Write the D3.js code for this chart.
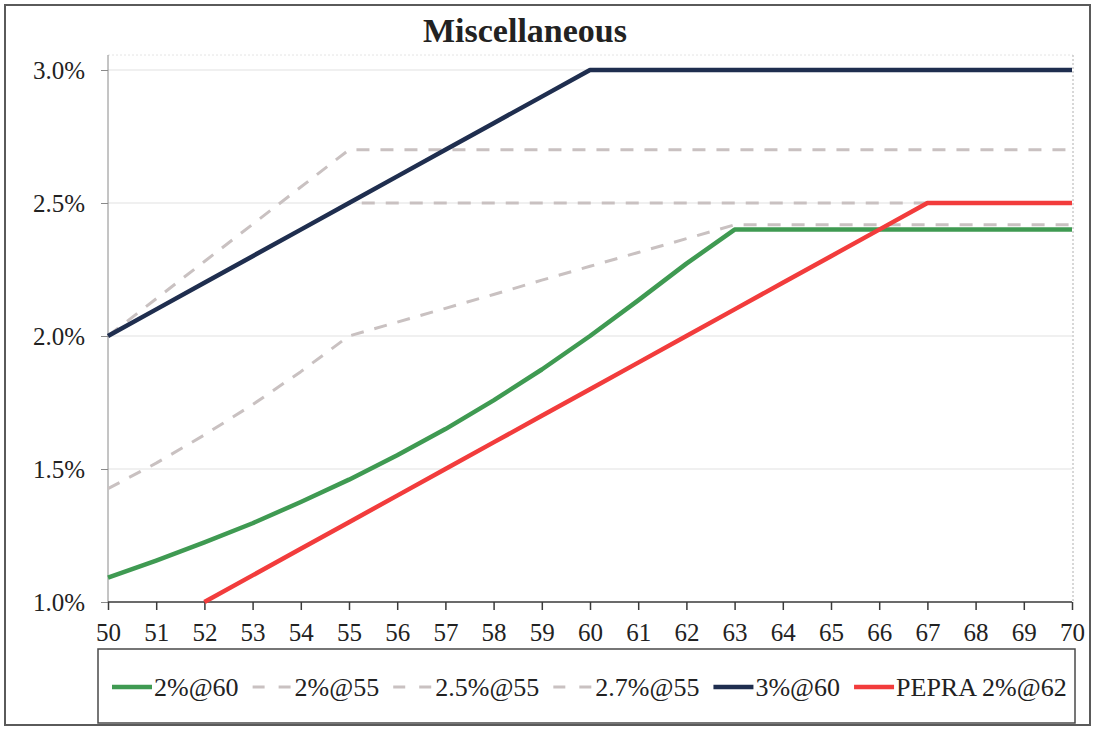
<!DOCTYPE html>
<html>
<head>
<meta charset="utf-8">
<script src="https://cdn.jsdelivr.net/npm/d3@7"></script>
<style>
body{margin:0;background:#fff;}
text{font-family:"Liberation Serif","Times New Roman",serif;}
</style>
</head>
<body>
<div id="chart"></div>
<script>
// ages on x axis
var ages = [50,51,52,53,54,55,56,57,58,59,60,61,62,63,64,65,66,67,68,69,70];
var yTicks = [1.0,1.5,2.0,2.5,3.0];
var seriesNames = ["2%@60","2%@55","2.5%@55","2.7%@55","3%@60","PEPRA 2%@62"];
// benefit factor, percent per year of service
var s2at60 = [1.092,1.156,1.224,1.296,1.376,1.460,1.552,1.650,1.758,1.874,2.000,2.134,2.272,2.400,2.400,2.400,2.400,2.400,2.400,2.400,2.400];
var s2at55 = [1.426,1.522,1.628,1.742,1.866,2.000,2.052,2.104,2.156,2.210,2.262,2.314,2.366,2.418,2.418,2.418,2.418,2.418,2.418,2.418,2.418];
var s25at55 = [2.000,2.100,2.200,2.300,2.400,2.500,2.500,2.500,2.500,2.500,2.500,2.500,2.500,2.500,2.500,2.500,2.500,2.500,2.500,2.500,2.500];
var s27at55 = [2.000,2.140,2.280,2.420,2.560,2.700,2.700,2.700,2.700,2.700,2.700,2.700,2.700,2.700,2.700,2.700,2.700,2.700,2.700,2.700,2.700];
var s3at60 = [2.000,2.100,2.200,2.300,2.400,2.500,2.600,2.700,2.800,2.900,3.000,3.000,3.000,3.000,3.000,3.000,3.000,3.000,3.000,3.000,3.000];
var pepra = [null,null,1.000,1.100,1.200,1.300,1.400,1.500,1.600,1.700,1.800,1.900,2.000,2.100,2.200,2.300,2.400,2.500,2.500,2.500,2.500];

var allSeries = [s2at60,s2at55,s25at55,s27at55,s3at60,pepra];
var colors = ["#3f9a52","#c9c1c1","#c9c1c1","#c9c1c1","#1f2e4f","#f23c3c"];
var dashed = [false,true,true,true,false,false];

var W = 1097, H = 729;
var svg = d3.select("#chart").append("svg")
	.attr("width", W)
	.attr("height", H);

// outer frame
svg.append("rect")
	.attr("x",5).attr("y",5)
	.attr("width",1085).attr("height",720)
	.attr("fill","#fff")
	.attr("stroke","#5a5a5a")
	.attr("stroke-width",2);

svg.append("text")
	.attr("x",525).attr("y",42)
	.attr("text-anchor","middle")
	.attr("font-size",34)
	.attr("font-weight","bold")
	.attr("fill","#222")
	.text("Miscellaneous");

var xscale = d3.scaleLinear().domain([50,70]).range([108,1072]);
var yscale = d3.scaleLinear().domain([1,3]).range([602,70]);

// gridlines
svg.selectAll(".grid")
	.data(yTicks.slice(1))
	.enter().append("line")
	.attr("x1",108).attr("x2",1072)
	.attr("y1",function(d){ return yscale(d); })
	.attr("y2",function(d){ return yscale(d); })
	.attr("stroke","#ebebeb")
	.attr("stroke-width",1.5);

// plot frame top/right
svg.append("line").attr("x1",108).attr("x2",1073).attr("y1",55).attr("y2",55)
	.attr("stroke","#e4e4e4").attr("stroke-dasharray","2,2");
svg.append("line").attr("x1",1073).attr("x2",1073).attr("y1",55).attr("y2",602)
	.attr("stroke","#b0b0b0").attr("stroke-dasharray","2,2");

// y axis
var y_axis = d3.axisLeft(yscale)
	.tickValues(yTicks)
	.tickSize(7)
	.tickFormat(function(d){ return d.toFixed(1)+"%"; });
var gy = svg.append("g")
	.attr("transform","translate(108,0)")
	.call(y_axis);
gy.select(".domain").attr("stroke","#8a8a8a").attr("d","M0,55V602");
gy.selectAll(".tick line").attr("stroke","#8a8a8a");
gy.selectAll(".tick text")
	.attr("font-family","Liberation Serif")
	.attr("font-size",25)
	.attr("fill","#222")
	.attr("x",-23);

// x axis
var x_axis = d3.axisBottom(xscale)
	.tickValues(ages)
	.tickSize(8)
	.tickFormat(d3.format("d"));
var gx = svg.append("g")
	.attr("transform","translate(0,602)")
	.call(x_axis);
gx.select(".domain").attr("stroke","#3a3a3a").attr("stroke-width",1.5).attr("d","M108,0H1072");
gx.selectAll(".tick line").attr("stroke","#3a3a3a").attr("stroke-width",1.5);
gx.selectAll(".tick text")
	.attr("font-family","Liberation Serif")
	.attr("font-size",25)
	.attr("fill","#222")
	.attr("y",21);

// lines
var line = d3.line()
	.defined(function(d){ return d[1] != null; })
	.x(function(d){ return xscale(d[0]); })
	.y(function(d){ return yscale(d[1]); });

allSeries.forEach(function(s,i){
	var pts = ages.map(function(a,j){ return [a,s[j]]; });
	svg.append("path")
		.datum(pts)
		.attr("d",line)
		.attr("fill","none")
		.attr("stroke",colors[i])
		.attr("stroke-width",dashed[i] ? 3 : 4.5)
		.attr("stroke-dasharray",dashed[i] ? "13,11" : null)
		.attr("stroke-linejoin","round");
});

// legend
svg.append("rect")
	.attr("x",98).attr("y",649)
	.attr("width",977).attr("height",74)
	.attr("fill","#fff")
	.attr("stroke","#4a4a4a")
	.attr("stroke-width",1.5);

var lx = 112, ly = 687;
seriesNames.forEach(function(name,i){
	svg.append("line")
		.attr("x1",lx).attr("x2",lx+40)
		.attr("y1",ly).attr("y2",ly)
		.attr("stroke",colors[i])
		.attr("stroke-width",dashed[i] ? 3 : 4.5)
		.attr("stroke-dasharray",dashed[i] ? "12,14" : null);
	var t = svg.append("text")
		.attr("x",lx+42).attr("y",ly+9)
		.attr("font-size",26)
		.attr("fill","#222")
		.text(name);
	lx = lx + 42 + t.node().getComputedTextLength() + 14;
});
</script>
</body>
</html>
